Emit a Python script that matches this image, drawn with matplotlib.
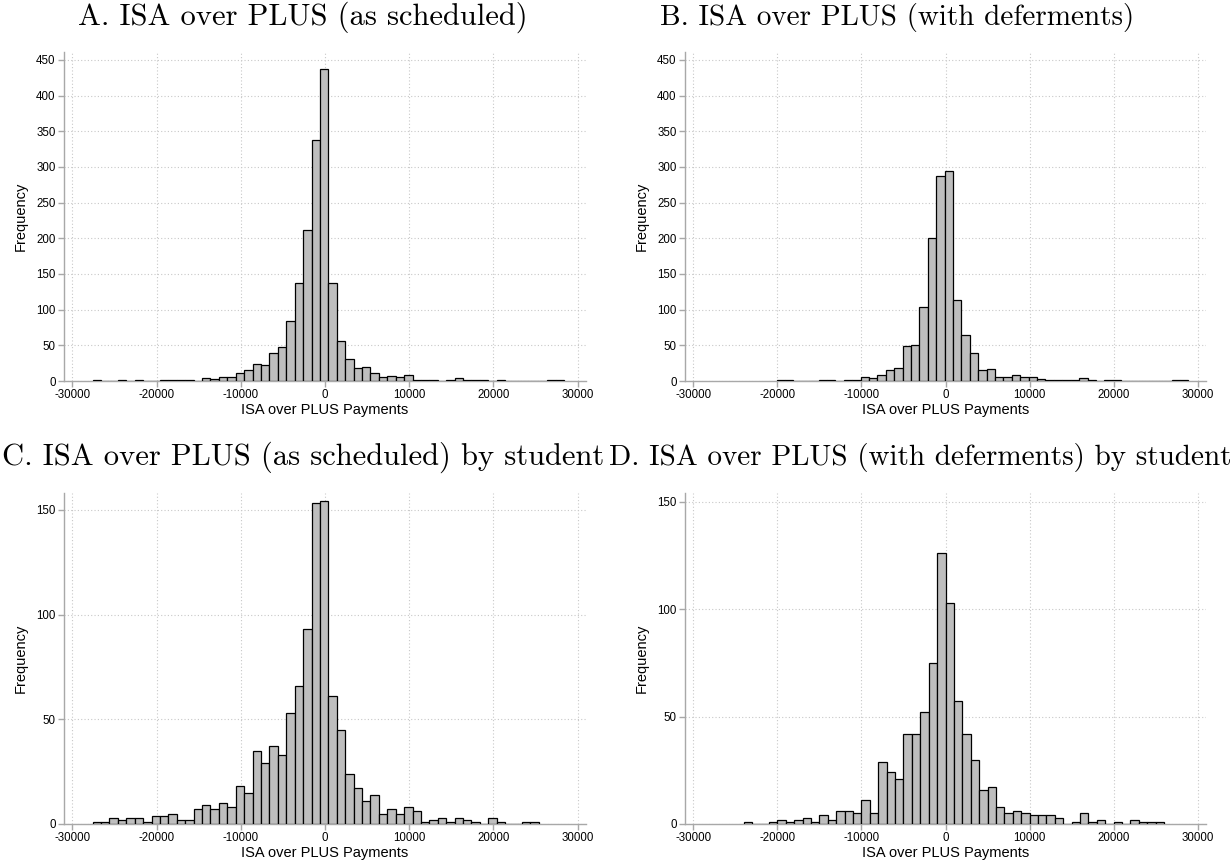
import numpy as np
import matplotlib
matplotlib.use("Agg")
import matplotlib.pyplot as plt

plt.rcParams["font.family"] = ["Liberation Sans", "DejaVu Sans"]
plt.rcParams["axes.unicode_minus"] = False

# histogram counts, bins of width 1000 starting at the given left edge
bin_width = 1000

a_start = -27600
a_counts = [1, 0, 0, 1, 0, 1, 0, 0, 1, 1, 1, 1, 0, 4, 3, 5, 6, 11, 15, 24,
            23, 39, 48, 84, 137, 211, 337, 437, 137, 56, 31, 18, 19, 11, 6, 7,
            6, 9, 2, 1, 1, 0, 2, 4, 1, 1, 1, 0, 1, 0, 0, 0, 0, 0, 1, 1]

b_start = -20100
b_counts = [1, 1, 0, 0, 0, 1, 1, 0, 2, 1, 6, 4, 9, 15, 18, 49, 50, 103, 200,
            287, 294, 113, 65, 39, 16, 17, 5, 6, 9, 5, 5, 3, 1, 2, 1, 1, 4, 1,
            0, 1, 1, 0, 0, 0, 0, 0, 0, 1, 1]

c_start = -27600
c_counts = [1, 1, 3, 2, 3, 3, 1, 4, 4, 5, 2, 2, 7, 9, 7, 10, 8, 18, 15, 35,
            29, 37, 33, 53, 66, 93, 153, 154, 61, 45, 24, 17, 11, 14, 5, 7, 5,
            8, 6, 1, 2, 3, 1, 3, 2, 1, 0, 3, 1, 0, 0, 1, 1]

d_start = -24000
d_counts = [1, 0, 0, 1, 2, 1, 2, 3, 1, 4, 2, 6, 6, 5, 11, 5, 29, 24, 21, 42,
            42, 52, 75, 126, 103, 57, 42, 30, 16, 17, 8, 5, 6, 5, 4, 4, 4, 3,
            0, 1, 5, 1, 2, 0, 1, 0, 2, 1, 1, 1]

titles = ["A. ISA over PLUS (as scheduled)",
          "B. ISA over PLUS (with deferments)",
          "C. ISA over PLUS (as scheduled) by student",
          "D. ISA over PLUS (with deferments) by student"]

x_ticks = [-30000, -20000, -10000, 0, 10000, 20000, 30000]
y_ticks_top = [0, 50, 100, 150, 200, 250, 300, 350, 400, 450]
y_ticks_bottom = [0, 50, 100, 150]

W, H = 1231, 867
fig = plt.figure(figsize=(W / 100, H / 100), dpi=100)


def add_ax(left, top, right, bottom):
    return fig.add_axes([left / W, 1 - bottom / H, (right - left) / W, (bottom - top) / H])


panels = [
    # counts, start, axes box (px), ylim top, yticks, title centre, baseline, size
    (a_counts, a_start, (64, 52, 586, 381), 461, y_ticks_top, 303, 25, 22),
    (b_counts, b_start, (685, 52, 1206, 381), 461, y_ticks_top, 897, 25, 21),
    (c_counts, c_start, (64, 493, 586, 824), 158, y_ticks_bottom, 303, 465, 22),
    (d_counts, d_start, (685, 493, 1206, 824), 154, y_ticks_bottom, 920, 465, 21),
]

grid_col = "#c8c8c8"
axis_col = "#a8a8a8"

for (counts, start, box, ytop, yticks, tx, ty, tsize), title in zip(panels, titles):
    ax = add_ax(*box)
    edges = start + bin_width * np.arange(len(counts))
    ax.bar(edges, counts, width=bin_width, align="edge", color="#bebebe",
           edgecolor="black", linewidth=0.9, zorder=3)
    ax.set_xlim(-31000, 31000)
    ax.set_ylim(0, ytop)
    ax.set_xticks(x_ticks)
    ax.set_yticks(yticks)
    ax.grid(True, color=grid_col, linestyle=(0, (1, 2)), linewidth=0.8, zorder=0)
    for s in ["top", "right"]:
        ax.spines[s].set_visible(False)
    for s in ["left", "bottom"]:
        ax.spines[s].set_color(axis_col)
        ax.spines[s].set_linewidth(1.0)
    ax.tick_params(axis="both", colors=axis_col, length=4, width=1.0,
                   labelcolor="black", labelsize=8.3, pad=2)
    ax.set_xlabel("ISA over PLUS Payments", fontsize=10.5, labelpad=1)
    ax.set_ylabel("Frequency", fontsize=10.5, labelpad=6)
    fig.text(tx / W, 1 - ty / H, title, family="cmr10", fontsize=tsize,
             ha="center", va="baseline")

fig.savefig("out.png", dpi=100)
